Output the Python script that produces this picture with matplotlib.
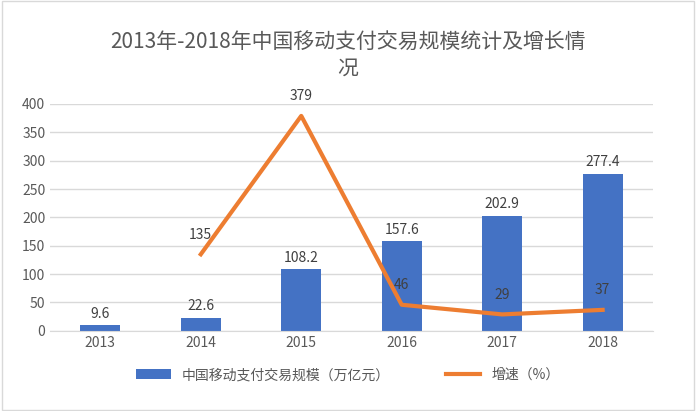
import matplotlib.pyplot as plt
from matplotlib import font_manager
import numpy as np

# pick whatever CJK font is actually registered
cjk = [f.name for f in font_manager.fontManager.ttflist if 'CJK' in f.name]
pref = [n for n in ['Noto Sans CJK SC', 'Noto Sans CJK JP'] if n in cjk] or cjk
plt.rcParams['font.family'] = 'sans-serif'
plt.rcParams['font.sans-serif'] = pref[:1] + ['DejaVu Sans']

years = ['2013', '2014', '2015', '2016', '2017', '2018']
scale = [9.6, 22.6, 108.2, 157.6, 202.9, 277.4]
growth_years = ['2014', '2015', '2016', '2017', '2018']
growth = [135, 379, 46, 29, 37]

fig = plt.figure(figsize=(6.96, 4.11), dpi=100)
fig.patches.append(plt.Rectangle((0.003, 0.003), 0.994, 0.994, transform=fig.transFigure,
                                 fill=False, edgecolor='#d9d9d9', lw=1))
ax = fig.add_axes([0.072, 0.195, 0.866, 0.552])

x = np.arange(len(years))
bars = ax.bar(x, scale, width=0.4, color='#4472c4', zorder=2)
for xi, v in zip(x, scale):
    ax.text(xi, v + 8, f'{v:g}', ha='center', va='bottom', fontsize=10, color='#404040')

gx = [years.index(y) for y in growth_years]
line, = ax.plot(gx, growth, color='#ed7d31', lw=3, zorder=3)
for xi, v in zip(gx, growth):
    ax.text(xi, v + 22, f'{v:g}', ha='center', va='bottom', fontsize=10, color='#404040', zorder=4)

ax.set_xlim(-0.5, 5.5)
ax.set_ylim(0, 400)
ax.set_yticks(range(0, 401, 50))
ax.set_xticks(x)
ax.set_xticklabels(years)
ax.tick_params(length=0, labelsize=10, colors='#595959')
ax.grid(axis='y', color='#d9d9d9', lw=1, zorder=0)
for s in ['top', 'right', 'left']:
    ax.spines[s].set_visible(False)
ax.spines['bottom'].set_color('#d9d9d9')

fig.text(0.5, 0.865, '2013年-2018年中国移动支付交易规模统计及增长情\n况', ha='center',
         va='center', fontsize=15, color='#595959', linespacing=1.3)
fig.legend([bars, line], ['中国移动支付交易规模（万亿元）', '增速（%）'],
           loc='lower center', bbox_to_anchor=(0.5, 0.04), ncol=2, frameon=False,
           fontsize=10, labelcolor='#595959', handlelength=2.5, columnspacing=4)

fig.savefig('out.png', dpi=100)
